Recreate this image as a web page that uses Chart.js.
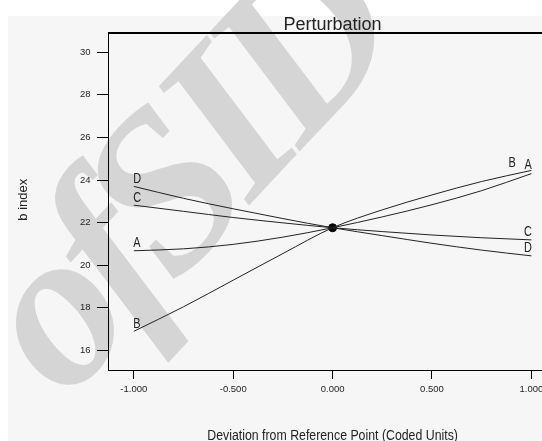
<!DOCTYPE html>
<html>
<head>
<meta charset="utf-8">
<script src="https://cdn.jsdelivr.net/npm/chart.js@4.4.0/dist/chart.umd.min.js"></script>
<style>
  html, body { margin: 0; padding: 0; background: #fff; overflow: hidden; }
  #wrap { width: 570px; height: 441px; }
</style>
</head>
<body>
<div id="wrap"><canvas id="perturbation-chart" width="570" height="441"></canvas></div>
<script>
// values (coded units -> b index)
const xValues = [-1, -0.75, -0.5, -0.25, 0, 0.25, 0.5, 0.75, 1];
const seriesA = [20.68, 20.77, 20.98, 21.32, 21.76, 22.27, 22.84, 23.5, 24.3];
const seriesB = [16.9, 18.05, 19.3, 20.55, 21.76, 22.6, 23.3, 23.93, 24.45];
const seriesC = [22.82, 22.53, 22.24, 21.99, 21.76, 21.58, 21.42, 21.29, 21.19];
const seriesD = [23.7, 23.14, 22.65, 22.19, 21.76, 21.39, 21.03, 20.71, 20.44];
const factorNames = ['A', 'B', 'C', 'D'];
const referenceValue = 21.76;
const xTicks = [-1, -0.5, 0, 0.5, 1];
const yTicks = [16, 18, 20, 22, 24, 26, 28, 30];

Chart.defaults.font.family = '"Liberation Sans", Arial, sans-serif';
Chart.defaults.color = '#222';

function toPoints(values) {
  return xValues.map((x, i) => ({ x: x, y: values[i] }));
}

// grey panel + faint watermark behind everything
const backdrop = {
  id: 'backdrop',
  beforeDraw(chart) {
    const ctx = chart.ctx;
    ctx.save();
    ctx.fillStyle = '#fff';
    ctx.fillRect(0, 0, chart.width, chart.height);
    ctx.fillStyle = '#f6f6f6';
    ctx.fillRect(8, 16, chart.width - 8, chart.height - 16);

    ctx.fillStyle = '#d5d5d5';
    ctx.font = 'italic bold 225px "Liberation Serif"';
    ctx.letterSpacing = '-14px';
    ctx.translate(66, 402);
    ctx.rotate(-47 * Math.PI / 180);
    ctx.fillText('ofSID', 0, 0);
    ctx.restore();
  }
};

function squeezedText(ctx, text, x, y, sx, align) {
  ctx.save();
  ctx.translate(x, y);
  ctx.scale(sx, 1);
  ctx.textAlign = align;
  ctx.fillText(text, 0, 0);
  ctx.restore();
}

// title, axis titles, top frame and the A/B/C/D end labels
const annotations = {
  id: 'annotations',
  afterDatasetsDraw(chart, args, opts) {
    const ctx = chart.ctx;
    const area = chart.chartArea;
    const midX = (area.left + area.right) / 2;
    ctx.save();

    ctx.strokeStyle = '#000';
    ctx.lineWidth = 2;
    ctx.beginPath();
    ctx.moveTo(area.left, area.top);
    ctx.lineTo(area.right, area.top);
    ctx.stroke();

    ctx.fillStyle = '#222';
    ctx.textBaseline = 'alphabetic';
    ctx.font = '18px "Liberation Sans"';
    squeezedText(ctx, 'Perturbation', midX, 29.5, 1, 'center');

    ctx.font = '14px "Liberation Sans"';
    squeezedText(ctx, 'Deviation from Reference Point (Coded Units)', midX, 440, 0.88, 'center');

    ctx.font = '13px "Liberation Sans"';
    ctx.save();
    ctx.translate(27.3, (area.top + area.bottom) / 2 - 2);
    ctx.rotate(-Math.PI / 2);
    ctx.textAlign = 'center';
    ctx.fillText('b index', 0, 0);
    ctx.restore();

    ctx.font = '14px "Liberation Sans"';
    factorNames.forEach((name, i) => {
      const pts = chart.getDatasetMeta(i).data;
      const first = pts[0];
      const last = pts[pts.length - 1];
      squeezedText(ctx, name, first.x - 0.5, first.y - 3.5, 0.78, 'left');
      const shift = opts.rightShift[i] || [0, 0];
      squeezedText(ctx, name, last.x + 0.5 + shift[0], last.y - 3.5 + shift[1], 0.78, 'right');
    });
    ctx.restore();
  }
};

const lineStyle = {
  borderColor: '#222',
  borderWidth: 1,
  pointRadius: 0,
  fill: false,
  cubicInterpolationMode: 'monotone'
};

new Chart(document.getElementById('perturbation-chart'), {
  type: 'line',
  data: {
    datasets: [
      { label: 'A', data: toPoints(seriesA), ...lineStyle },
      { label: 'B', data: toPoints(seriesB), ...lineStyle },
      { label: 'C', data: toPoints(seriesC), ...lineStyle },
      { label: 'D', data: toPoints(seriesD), ...lineStyle },
      {
        type: 'scatter',
        label: 'Reference',
        data: [{ x: 0, y: referenceValue }],
        pointRadius: 4,
        backgroundColor: '#000',
        borderColor: '#000'
      }
    ]
  },
  options: {
    responsive: false,
    animation: false,
    layout: { padding: { top: 33, right: 12.8, left: 0, bottom: 0 } },
    plugins: {
      legend: { display: false },
      title: { display: false },
      tooltip: { enabled: false },
      annotations: { rightShift: [[0, -1], [-16, 0], [0, 0], [0, 0]] }
    },
    scales: {
      x: {
        type: 'linear',
        min: -1.13,
        max: 1.13,
        afterBuildTicks: function(scale) {
          scale.ticks = xTicks.map(v => ({ value: v }));
        },
        afterFit: function(scale) {
          scale.height = 70.5;
        },
        ticks: {
          autoSkip: false,
          maxRotation: 0,
          padding: 5,
          font: { size: 9.5 },
          color: '#222',
          callback: function(value) {
            return Number(value).toFixed(3);
          }
        },
        grid: { drawOnChartArea: false, drawTicks: true, tickLength: 8.5, color: '#000' },
        border: { display: true, color: '#000', width: 1 }
      },
      y: {
        type: 'linear',
        min: 15.06,
        max: 30.9,
        afterBuildTicks: function(scale) {
          scale.ticks = yTicks.map(v => ({ value: v }));
        },
        afterFit: function(scale) {
          scale.width = 108;
        },
        ticks: {
          padding: 6.5,
          font: { size: 9.5 },
          color: '#222',
          callback: function(value) {
            return String(value);
          }
        },
        grid: { drawOnChartArea: false, drawTicks: true, tickLength: 11, color: '#000' },
        border: { display: true, color: '#000', width: 1 }
      }
    }
  },
  plugins: [backdrop, annotations]
});
</script>
</body>
</html>
